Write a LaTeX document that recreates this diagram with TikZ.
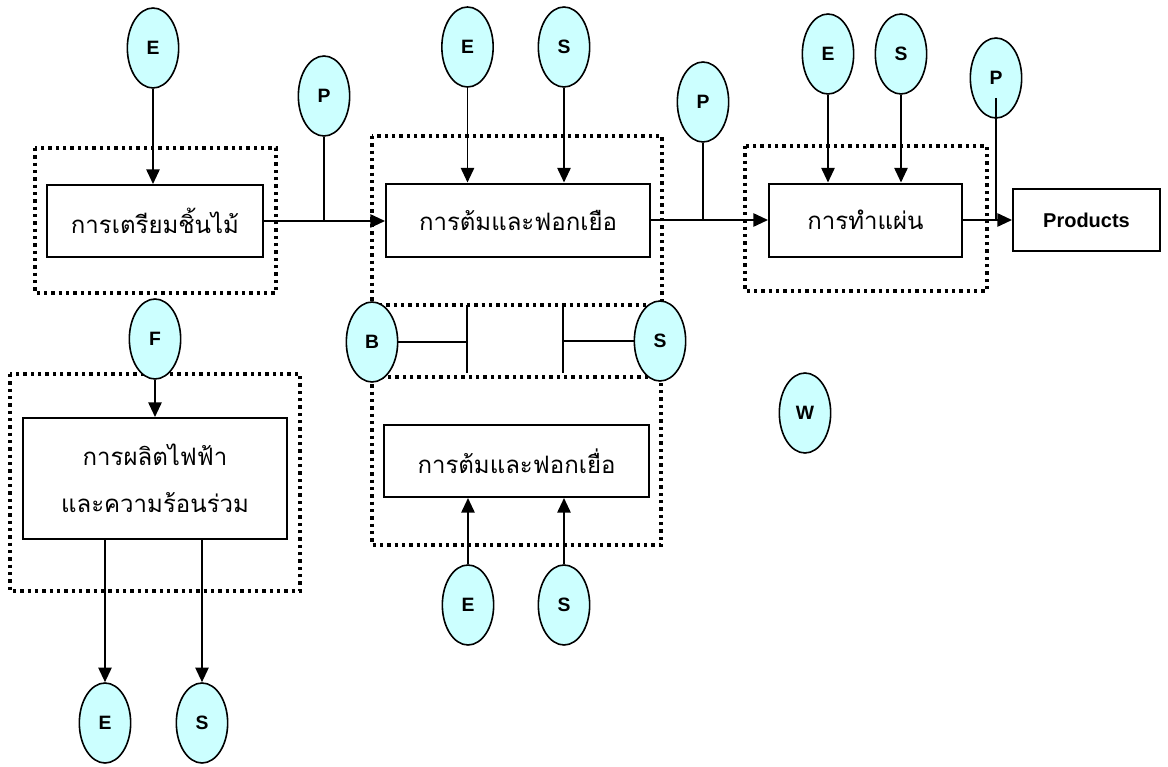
\documentclass[tikz,border=0pt]{standalone}
\usepackage{fontspec}
\setmainfont{Liberation Sans}
\newfontfamily\thai[Script=Thai]{Loma}
\usetikzlibrary{arrows.meta,shapes.geometric}
\definecolor{ellfill}{HTML}{CCFFFF}
\tikzset{
  ell/.style={ellipse, draw, line width=1.2pt, fill=ellfill, inner sep=0pt,
    minimum width=38.5pt, minimum height=60pt, font=\fontsize{14.5}{16}\selectfont\bfseries},
  procbox/.style={rectangle, draw, line width=1.5pt, fill=white, inner sep=0pt,
    align=center, font=\thai\fontsize{18}{35}\selectfont},
  dotbox/.style={draw, line width=2.4pt, dash pattern=on 2.6pt off 2.9pt},
  conn/.style={line width=1.3pt},
  arr/.style={line width=1.3pt, -{Triangle[length=11pt,width=10pt]}},
}
\begin{document}
\begin{tikzpicture}[x=0.75pt,y=-0.75pt]
\useasboundingbox (0,0) rectangle (1168,767);
\fill[white] (0,0) rectangle (1168,767);
% dotted group frames
\draw[dotbox] (35,148) rectangle (276,293);
\draw[dotbox] (372,136) rectangle (662,305);
\draw[dotbox] (745,146) rectangle (987,291);
\draw[dotbox] (10,374) rectangle (300,591);
\draw[dotbox] (372,377) rectangle (661,545);
% process boxes
\node[procbox, minimum width=162pt, minimum height=54pt] (b1) at (155,221) {การเตรียมชิ้นไม้};
\node[procbox, minimum width=198pt, minimum height=54.75pt] (b2) at (518,220) {การต้มและฟอกเยือ};
\node[procbox, minimum width=144.75pt, minimum height=54.75pt] (b3) at (865.5,220) {การทำแผ่น};
\node[procbox, minimum width=110.25pt, minimum height=46.5pt, font=\fontsize{15}{17}\selectfont\bfseries] (prod) at (1086.5,220) {Products};
\node[procbox, minimum width=198pt, minimum height=90.75pt] (b4) at (155,478.5) {การผลิตไฟฟ้า\\และความร้อนร่วม};
\node[procbox, minimum width=198.75pt, minimum height=54pt] (b5) at (516.5,461) {การต้มและฟอกเยื่อ};
% ellipses
\node[ell] (E1) at (153,48) {E};
\node[ell] (P1) at (324,96) {P};
\node[ell] (E2) at (467.5,47) {E};
\node[ell] (S2) at (564,47) {S};
\node[ell] (P2) at (703,102) {P};
\node[ell] (E3) at (828,54) {E};
\node[ell] (S3) at (901,54) {S};
\node[ell] (P3) at (996,78) {P};
\node[ell] (F4) at (155,339) {F};
\node[ell] (E4) at (105,723) {E};
\node[ell] (S4) at (202,723) {S};
\node[ell] (E5) at (468,605) {E};
\node[ell] (S5) at (564,605) {S};
\node[ell] (W) at (805,413) {W};
% main flow
\draw[arr] (b1.east) -- (b1.east -| b2.west);
\draw[arr] (b2.east) -- (b2.east -| b3.west);
\draw[arr] (b3.east) -- (b3.east -| prod.west);
% P joins
\draw[conn] (P1.south) -- (P1.south |- b1.east);
\draw[conn] (P2.south) -- (P2.south |- b2.east);
\coordinate (p3start) at (996,98);
\draw[conn] (p3start) -- (p3start |- b3.east);
% inputs from above
\draw[arr] (E1.south) -- (E1.south |- b1.north);
\draw[arr] (E2.south) -- (E2.south |- b2.north);
\draw[arr] (S2.south) -- (S2.south |- b2.north);
\draw[arr] (E3.south) -- (E3.south |- b3.north);
\draw[arr] (S3.south) -- (S3.south |- b3.north);
% cogeneration
\draw[arr] (F4.south) -- (F4.south |- b4.north);
\draw[arr] (E4.north |- b4.south) -- (E4.north);
\draw[arr] (S4.north |- b4.south) -- (S4.north);
% second boiling
\draw[arr] (E5.north) -- (E5.north |- b5.south);
\draw[arr] (S5.north) -- (S5.north |- b5.south);
% B and S links between frames
\node[ell] (B6) at (372,342) {B};
\node[ell] (S6) at (660,341) {S};
\coordinate (jb1) at (467,305);
\coordinate (jb2) at (467,373);
\coordinate (js1) at (563,305);
\coordinate (js2) at (563,373);
\draw[conn] (jb1) -- (jb2);
\draw[conn] (js1) -- (js2);
\draw[conn] (B6.east) -- (B6.east -| jb1);
\draw[conn] (S6.west) -- (S6.west -| js1);
\end{tikzpicture}
\end{document}
